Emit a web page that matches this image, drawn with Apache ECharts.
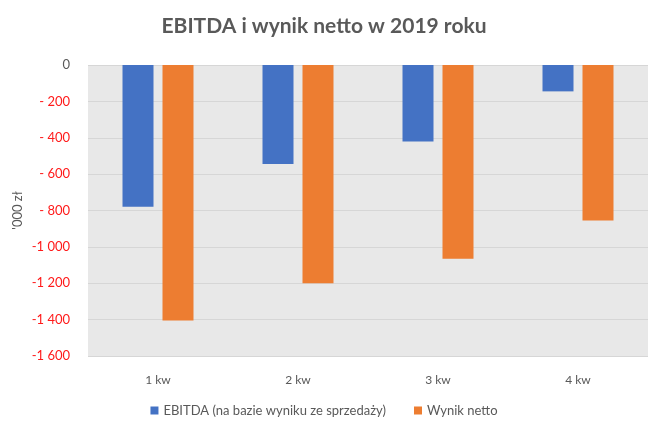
<!DOCTYPE html>
<html>
<head>
<meta charset="utf-8">
<script src="https://cdn.jsdelivr.net/npm/echarts@6/dist/echarts.min.js"></script>
<style>
  html, body { margin: 0; padding: 0; background: #fff; }
  #chart { width: 648px; height: 426px; }
</style>
</head>
<body>
<div id="chart"></div>
<script>
// dane (tys. zł)
const quarters = ['1 kw', '2 kw', '3 kw', '4 kw']
const ebitda = [-780, -545, -420, -145]
const wynikNetto = [-1405, -1200, -1065, -855]
const seriesNames = ['EBITDA (na bazie wyniku ze sprzedaży)', 'Wynik netto']

const fmt = (v) => {
    if (v === 0) return '0'
    const a = Math.abs(v)
    if (a < 1000) return '- ' + a
    return '-' + String(a).replace(/\B(?=(\d{3})+(?!\d))/g, ' ')
}

const chart = echarts.init(document.getElementById('chart'))
chart.setOption({
    backgroundColor: '#fff',
    animation: false,
    title: {
        text: 'EBITDA i wynik netto w 2019 roku',
        left: 'center',
        top: 11,
        textStyle: {
            fontFamily: 'Lato',
            fontSize: 21,
            fontWeight: 'bold',
            color: '#595959'
        }
    },
    grid: {
        left: 88,
        right: 0,
        top: 65,
        bottom: 70,
        show: true,
        backgroundColor: '#e8e8e8',
        borderWidth: 0
    },
    legend: {
        data: seriesNames,
        bottom: 4,
        left: 'center',
        icon: 'rect',
        itemWidth: 8,
        itemHeight: 8,
        itemGap: 28,
        textStyle: { fontFamily: 'Lato', fontSize: 13, color: '#595959' }
    },
    xAxis: {
        type: 'category',
        data: quarters,
        position: 'bottom',
        axisLine: { show: false },
        axisTick: { show: false },
        axisLabel: {
            margin: 18,
            fontFamily: 'Lato',
            fontSize: 12,
            color: '#595959'
        }
    },
    yAxis: {
        type: 'value',
        min: -1600,
        max: 0,
        interval: 200,
        name: "'000 zł",
        nameLocation: 'middle',
        nameGap: 64,
        nameMoveOverlap: false,
        nameTextStyle: { fontFamily: 'Lato', fontSize: 13, color: '#595959' },
        axisLine: { show: false },
        axisTick: { show: false },
        splitLine: { lineStyle: { color: '#d6d6d6', width: 1 } },
        axisLabel: {
            margin: 18,
            fontFamily: 'Lato',
            fontSize: 13,
            formatter: fmt,
            color: (v) => (Number(v) === 0 ? '#595959' : '#ff1a1a')
        }
    },
    series: [
        {
            name: seriesNames[0],
            type: 'bar',
            data: ebitda,
            barWidth: 31,
            barGap: '29%',
            itemStyle: { color: '#4472c4' }
        },
        {
            name: seriesNames[1],
            type: 'bar',
            data: wynikNetto,
            barWidth: 31,
            itemStyle: { color: '#ed7d31' }
        }
    ]
})
</script>
</body>
</html>
